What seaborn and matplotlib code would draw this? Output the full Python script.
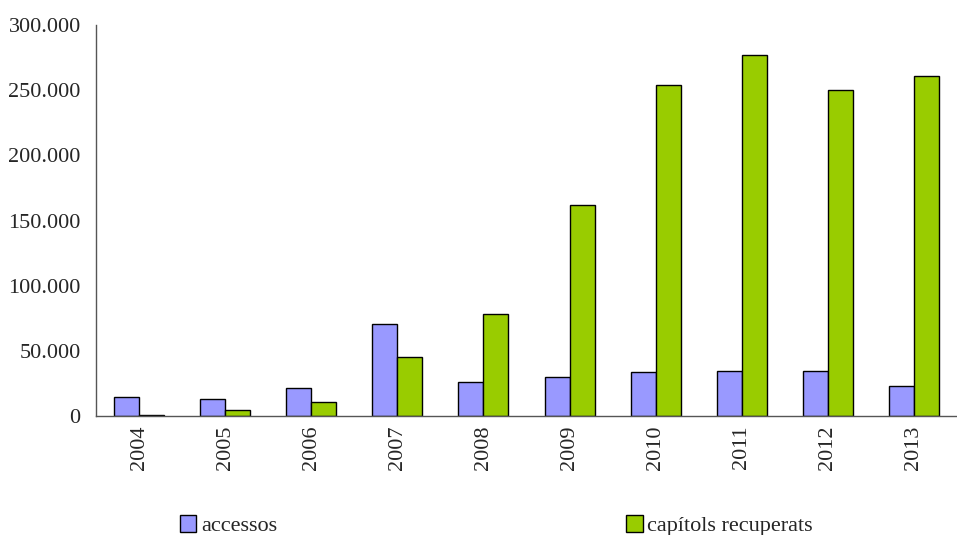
import matplotlib
matplotlib.use("Agg")
import matplotlib.pyplot as plt
import seaborn as sns
import pandas as pd
from matplotlib.ticker import FuncFormatter

years = ["2004", "2005", "2006", "2007", "2008", "2009", "2010", "2011", "2012", "2013"]
accessos = [14800, 13000, 21300, 70400, 25900, 29700, 33800, 34800, 34800, 23300]
capitols = [1000, 4400, 10700, 45500, 78300, 161900, 254000, 277300, 250400, 261200]
series = ["accessos", "capítols recuperats"]
colors = ["#9999FF", "#99CC00"]

df = pd.DataFrame({
    "any": years * 2,
    "valor": accessos + capitols,
    "serie": [series[0]] * len(years) + [series[1]] * len(years),
})

sns.set_style("white")
plt.rcParams["font.family"] = ["Liberation Serif", "DejaVu Serif"]
fs = 16

fig = plt.figure(figsize=(9.57, 5.35), dpi=100)
ax = fig.add_axes([0.1003, 0.2224, 0.8997, 0.7309])

sns.barplot(data=df, x="any", y="valor", hue="serie", palette=colors, saturation=1,
            width=0.58, edgecolor="black", linewidth=1, ax=ax)

ax.set_ylim(0, 300000)
ax.set_yticks(range(0, 300001, 50000))
ax.yaxis.set_major_formatter(FuncFormatter(lambda v, p: f"{int(v):,}".replace(",", ".")))
ax.set_xlim(-0.5, len(years) - 0.5)
ax.set_xlabel("")
ax.set_ylabel("")
ax.tick_params(axis="x", rotation=90, length=0, pad=7, labelsize=fs)
ax.tick_params(axis="y", length=0, pad=11, labelsize=fs)
for s in ["top", "right"]:
    ax.spines[s].set_visible(False)
for s in ["left", "bottom"]:
    ax.spines[s].set_color("#555555")
    ax.spines[s].set_linewidth(1)

handles, labels = ax.get_legend_handles_labels()
ax.get_legend().remove()
fig.legend(handles, labels, loc="lower left", bbox_to_anchor=(0.167, -0.04), ncol=2,
           frameon=False, handlelength=0.75, handleheight=0.8, handletextpad=0.2,
           columnspacing=15.7, fontsize=fs)

fig.savefig("out.png", dpi=100)
